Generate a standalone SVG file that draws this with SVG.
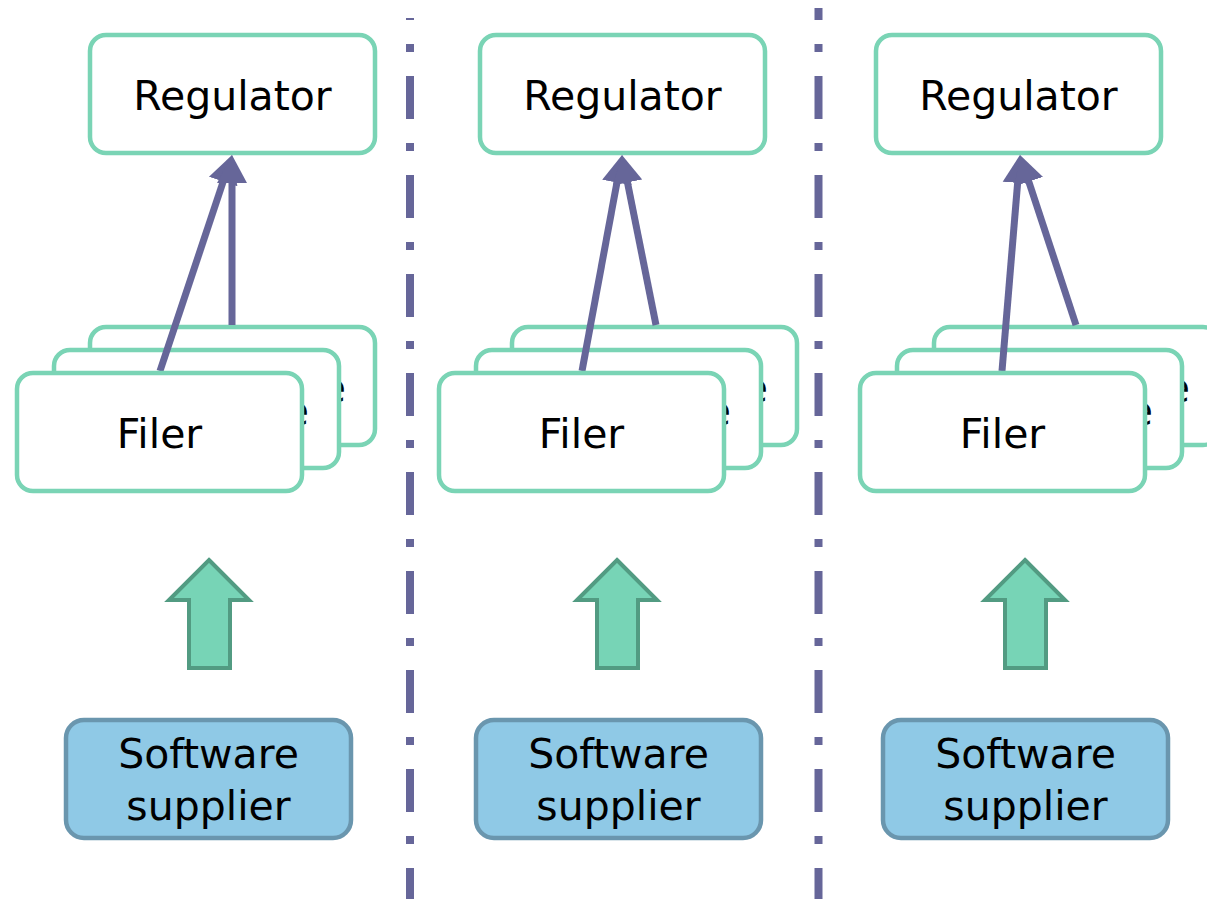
<svg xmlns="http://www.w3.org/2000/svg" width="1207" height="899" viewBox="0 0 1207 899">
<defs>
<style>
.box{fill:#fff;stroke:#7ad4b5;stroke-width:4.5}
.sup{fill:#8fc9e6;stroke:#6a96ae;stroke-width:4.5}
.t{font-family:"DejaVu Sans",Verdana,sans-serif;font-size:41px;fill:#000;text-anchor:middle}
.te{font-family:"DejaVu Sans",Verdana,sans-serif;font-size:41px;fill:#000;text-anchor:end}
.sep{stroke:#666699;stroke-width:8;stroke-dasharray:43 24 8 24;fill:none}
.con{stroke:#666699;stroke-width:7;fill:none;marker-end:url(#ah)}
.big{fill:#77d4b6;stroke:#529b82;stroke-width:4}
</style>
<marker id="ah" markerUnits="userSpaceOnUse" markerWidth="40" markerHeight="40" refX="8" refY="16" orient="auto" viewBox="0 0 40 32">
<path d="M0,1 L28,16 L0,31 z" fill="#666699"/>
</marker>
</defs>
<g id="separators">
<line class="sep" x1="410" y1="18" x2="410" y2="899" stroke-dashoffset="41"/>
<line class="sep" x1="818.5" y1="8" x2="818.5" y2="899" stroke-dashoffset="31"/>
</g>
<g id="regulator1"><rect class="box" x="90" y="35" width="285" height="118" rx="16"/><text class="t" x="232.5" y="110">Regulator</text></g>
<g id="regulator2"><rect class="box" x="480" y="35" width="285" height="118" rx="16"/><text class="t" x="622.5" y="110">Regulator</text></g>
<g id="regulator3"><rect class="box" x="876" y="35" width="285" height="118" rx="16"/><text class="t" x="1018.5" y="110">Regulator</text></g>
<g id="filer1-back"><rect class="box" x="90" y="327" width="285" height="118" rx="16"/><text class="te" x="346" y="402">e</text></g>
<g id="filer1-mid"><rect class="box" x="54" y="350" width="285" height="118" rx="16"/><text class="te" x="309" y="425">e</text></g>
<g id="filer2-back"><rect class="box" x="512" y="327" width="285" height="118" rx="16"/><text class="te" x="768" y="402">e</text></g>
<g id="filer2-mid"><rect class="box" x="476" y="350" width="285" height="118" rx="16"/><text class="te" x="731" y="425">e</text></g>
<g id="filer3-back"><rect class="box" x="934" y="327" width="285" height="118" rx="16"/><text class="te" x="1190" y="402">e</text></g>
<g id="filer3-mid"><rect class="box" x="897" y="350" width="285" height="118" rx="16"/><text class="te" x="1153" y="425">e</text></g>
<g id="connectors">
<line class="con" x1="160" y1="371" x2="225.7" y2="174"/>
<line class="con" x1="232" y1="325" x2="232" y2="175"/>
<line class="con" x1="582" y1="371" x2="618.4" y2="174.7"/>
<line class="con" x1="656" y1="325" x2="625.9" y2="174.6"/>
<line class="con" x1="1002" y1="371" x2="1018.3" y2="174.9"/>
<line class="con" x1="1076" y1="325" x2="1026.3" y2="174"/>
</g>
<g id="filer1"><rect class="box" x="17" y="373" width="285" height="118" rx="16"/><text class="t" x="159.5" y="448">Filer</text></g>
<g id="filer2"><rect class="box" x="439" y="373" width="285" height="118" rx="16"/><text class="t" x="581.5" y="448">Filer</text></g>
<g id="filer3"><rect class="box" x="860" y="373" width="285" height="118" rx="16"/><text class="t" x="1002.5" y="448">Filer</text></g>
<g id="uparrow1"><polygon class="big" points="209,560 249,600 230,600 230,668 189,668 189,600 169,600"/></g>
<g id="uparrow2"><polygon class="big" points="617,560 657,600 638,600 638,668 597,668 597,600 577,600"/></g>
<g id="uparrow3"><polygon class="big" points="1025,560 1065,600 1046,600 1046,668 1005,668 1005,600 985,600"/></g>
<g id="supplier1"><rect class="sup" x="66" y="720" width="285" height="118" rx="18"/><text class="t" x="208.5" y="768">Software</text><text class="t" x="208.5" y="820">supplier</text></g>
<g id="supplier2"><rect class="sup" x="476" y="720" width="285" height="118" rx="18"/><text class="t" x="618.5" y="768">Software</text><text class="t" x="618.5" y="820">supplier</text></g>
<g id="supplier3"><rect class="sup" x="883" y="720" width="285" height="118" rx="18"/><text class="t" x="1025.5" y="768">Software</text><text class="t" x="1025.5" y="820">supplier</text></g>
</svg>
